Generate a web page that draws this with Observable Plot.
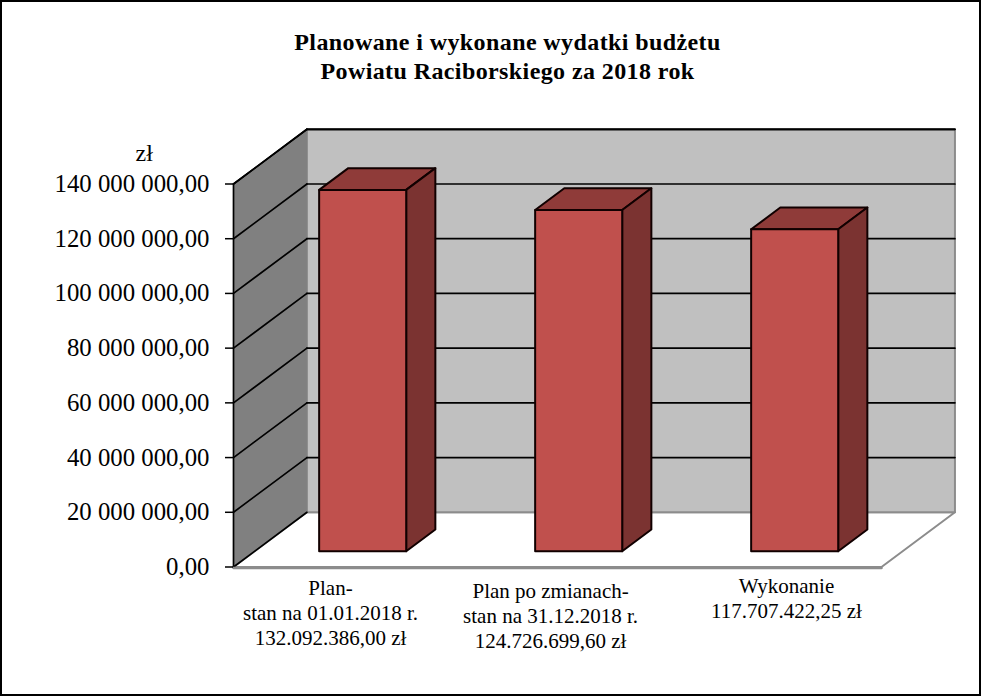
<!DOCTYPE html>
<html lang="pl"><head><meta charset="utf-8">
<script src="https://cdn.jsdelivr.net/npm/d3@7"></script>
<script src="https://cdn.jsdelivr.net/npm/@observablehq/plot@0.6"></script>
<style>
html,body{margin:0;padding:0;background:#fff}
#box{position:relative;width:981px;height:696px;box-sizing:border-box;border:2px solid #000;overflow:hidden;font-family:"Liberation Serif",serif;color:#000}
#title{height:108px;box-sizing:border-box;padding-top:26px;text-align:center;font-weight:bold;font-size:24px;letter-spacing:.4px;line-height:29px;margin-left:34px}
svg{display:block}
</style></head><body>
<div id="box"><div id="title">Planowane i wykonane wydatki budżetu<br>Powiatu Raciborskiego za 2018 rok</div><div id="chart"></div></div>
<script>
const categories = ["Plan-\nstan na 01.01.2018 r.\n132.092.386,00 zł","Plan po zmianach-\nstan na 31.12.2018 r.\n124.726.699,60 zł","Wykonanie\n117.707.422,25 zł"];
const values = [132092386, 124726699.6, 117707422.25];
const yTicks = [0,20e6,40e6,60e6,80e6,100e6,120e6,140e6];
const labelCenters = [0.449,1.468,2.56];
const labelShift = [11,14,9];

// oblique projection: depth 0 = front of the box, depth 1 = back wall
const depthX = 0.34, depthY = 20e6;
const barLeft = 0.2986, barWidth = 0.403, barD0 = 0.288, barD1 = 0.685;
const P = (c,v,d,id) => ({x:c+d*depthX, y:v+d*depthY, id});
const poly = (id,list) => list.map(([c,v,d]) => P(c,v,d,id));
const maxY = yTicks[yTicks.length-1];

const seg = (data,o) => Plot.line(data,{x:"x",y:"y",z:"id",...o});
const closed = (data,fill,stroke="none",sw=1.5) => seg(data,{fill,stroke,strokeWidth:sw,curve:"linear-closed",strokeLinejoin:"round"});

const marks = [
  closed(poly("floor",[[0,0,0],[3,0,0],[3,0,1],[0,0,1]]),"#fff","#8c8c8c",2),
  closed(poly("back",[[0,0,1],[3,0,1],[3,maxY,1],[0,maxY,1]]),"#c0c0c0","#8c8c8c",2),
  closed(poly("side",[[0,0,0],[0,0,1],[0,maxY,1],[0,maxY,0]]),"#808080"),
  seg(yTicks.slice(1).flatMap(v=>poly("b"+v,[[0,v,1],[3,v,1]])),{stroke:"#000",strokeWidth:1.7}),
  seg(poly("btop",[[0,maxY,1],[3,maxY,1]]),{stroke:"#000",strokeWidth:1.7}),
  seg(yTicks.flatMap(v=>poly("s"+v,[[0,v,0],[0,v,1]])),{stroke:"#000",strokeWidth:1.7}),
  seg(poly("stop",[[0,maxY,1],[0,maxY,0],[0,0,0]]),{stroke:"#000",strokeWidth:1.7}),
  seg(poly("front",[[0,0,0],[3,0,0]]),{stroke:"#8c8c8c",strokeWidth:2.5,dy:1}),
  ...values.flatMap((v,i)=>{
    const l=i+barLeft, r=l+barWidth;
    return [
      closed(poly("t"+i,[[l,v,barD0],[r,v,barD0],[r,v,barD1],[l,v,barD1]]),"#8f3b39","#100",2),
      closed(poly("r"+i,[[r,0,barD0],[r,0,barD1],[r,v,barD1],[r,v,barD0]]),"#7b3331","#100",2),
      closed(poly("f"+i,[[l,0,barD0],[r,0,barD0],[r,v,barD0],[l,v,barD0]]),"#c0504d","#100",2)
    ];
  }),
  Plot.axisY({ticks:yTicks,tickSize:8,tickPadding:16,
    tickFormat:d3.formatLocale({decimal:",",thousands:" ",grouping:[3],currency:["",""]}).format(",.2f"),
    fontSize:24.8,label:null,stroke:"#000",strokeWidth:1.5}),
  Plot.text(["zł"],{frameAnchor:"top-left",dx:-98,dy:-40,text:d=>d,fontSize:24,lineAnchor:"top"}),
  ...categories.map((c,i)=>Plot.text([c],{x:()=>labelCenters[i],y:()=>0,text:d=>d,lineAnchor:"top",dy:labelShift[i],fontSize:21,lineHeight:1.17}))
];

const plot = Plot.plot({
  width:977,height:584,marginLeft:231,marginRight:98,marginTop:73.5,marginBottom:127.5,
  style:{fontFamily:"'Liberation Serif',serif",overflow:"visible",background:"transparent",color:"#000"},
  x:{type:"linear",domain:[0,3],axis:null},
  y:{type:"linear",domain:[0,maxY],axis:null},
  marks
});
document.getElementById("chart").append(plot);
</script></body></html>
